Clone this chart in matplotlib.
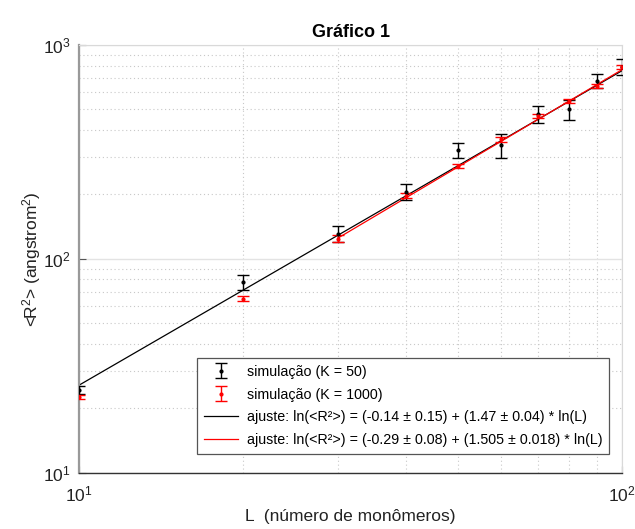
import numpy as np
import matplotlib
matplotlib.use("Agg")
import matplotlib.pyplot as plt
from matplotlib.ticker import NullFormatter

plt.rcParams['font.family'] = ['Liberation Sans', 'DejaVu Sans']
plt.rcParams['mathtext.fontset'] = 'custom'
plt.rcParams['mathtext.rm'] = 'Liberation Sans'
plt.rcParams['mathtext.it'] = 'Liberation Sans:italic'
plt.rcParams['mathtext.bf'] = 'Liberation Sans:bold'

# dados
L = [10, 20, 30, 40, 50, 60, 70, 80, 90, 100]
r2_k50 = [24.3, 77.6, 130.4, 206, 322, 339, 477, 500, 680, 792]
err_k50 = [1.0, 6.0, 11.2, 17.4, 25, 43.6, 43.5, 53.5, 52, 68]
r2_k1000 = [22.6, 65.1, 124.3, 197, 271, 362, 465, 547, 645, 790]
err_k1000 = [0.5, 1.8, 4.5, 5.5, 6.5, 8.5, 10, 11, 13, 15]

# ajustes ln(<R2>) = a + b*ln(L)
fit_a = [-0.14, -0.29]
fit_b = [1.47, 1.505]
fit_L = [[10, 100], [30, 100]]
fit_labels = [
    'ajuste: ln(<R²>) = (-0.14 ± 0.15) + (1.47 ± 0.04) * ln(L)',
    'ajuste: ln(<R²>) = (-0.29 ± 0.08) + (1.505 ± 0.018) * ln(L)',
]

fig = plt.figure(figsize=(6.35, 5.29), dpi=100)
ax = fig.add_axes([79.3 / 635, 1 - 472.5 / 529, 542.5 / 635, 427.5 / 529])

ax.set_xscale('log')
ax.set_yscale('log')
ax.set_xlim(10, 100)
ax.set_ylim(10, 1000)

# grade
ax.grid(True, which='major', color='#e3e3e3', linestyle='-', linewidth=1.0)
ax.grid(True, which='minor', color='#c8c8c8', linestyle=(0, (1, 2.5)), linewidth=0.8)
ax.set_axisbelow(True)

h1 = ax.errorbar(L, r2_k50, yerr=err_k50, fmt='.', color='black', ecolor='black',
                 markersize=4, elinewidth=1, capsize=4, capthick=1,
                 label='simulação (K = 50)', zorder=3)
h2 = ax.errorbar(L, r2_k1000, yerr=err_k1000, fmt='.', color='red', ecolor='red',
                 markersize=4, elinewidth=1, capsize=4, capthick=1,
                 label='simulação (K = 1000)', zorder=3)

colors = ['black', 'red']
fit_handles = []
for a, b, xs, lab, c in zip(fit_a, fit_b, fit_L, fit_labels, colors):
    xs = np.array(xs, dtype=float)
    ln, = ax.plot(xs, np.exp(a) * xs ** b, color=c, linewidth=0.9, label=lab, zorder=2)
    fit_handles.append(ln)

# eixos estilo octave
for s in ['top', 'right']:
    ax.spines[s].set_color('#d9d9d9')
    ax.spines[s].set_linewidth(0.8)
ax.spines['left'].set_color('#999999')
ax.spines['left'].set_linewidth(1.6)
ax.spines['bottom'].set_color('#333333')
ax.spines['bottom'].set_linewidth(1.0)

ax.xaxis.set_minor_formatter(NullFormatter())
ax.yaxis.set_minor_formatter(NullFormatter())
ax.tick_params(which='major', direction='in', length=5, width=0.8, color='#555555',
               labelsize=12.5, labelcolor='#222222')
ax.tick_params(which='minor', direction='in', length=0)
ax.tick_params(axis='x', pad=9)
ax.tick_params(axis='y', pad=6)

ax.set_title('Gráfico 1', fontsize=13, fontweight='bold', pad=6)
ax.set_xlabel('L  (número de monômeros)', fontsize=12.5, labelpad=3, color='#222222')
ax.set_ylabel('<R$^2$> (angstrom$^2$)', fontsize=12.5, labelpad=0, color='#222222')

handles = [h1, h2] + fit_handles
labels = [h.get_label() for h in handles]
leg = ax.legend(handles, labels, loc='lower right', bbox_to_anchor=(0.976, 0.044),
                borderaxespad=0, fontsize=10.3, frameon=True, fancybox=False,
                framealpha=1, edgecolor='#555555', handlelength=2.4,
                handletextpad=0.6, labelspacing=0.62, borderpad=0.45)
leg.get_frame().set_linewidth(0.9)

fig.savefig('out.png', dpi=100)
